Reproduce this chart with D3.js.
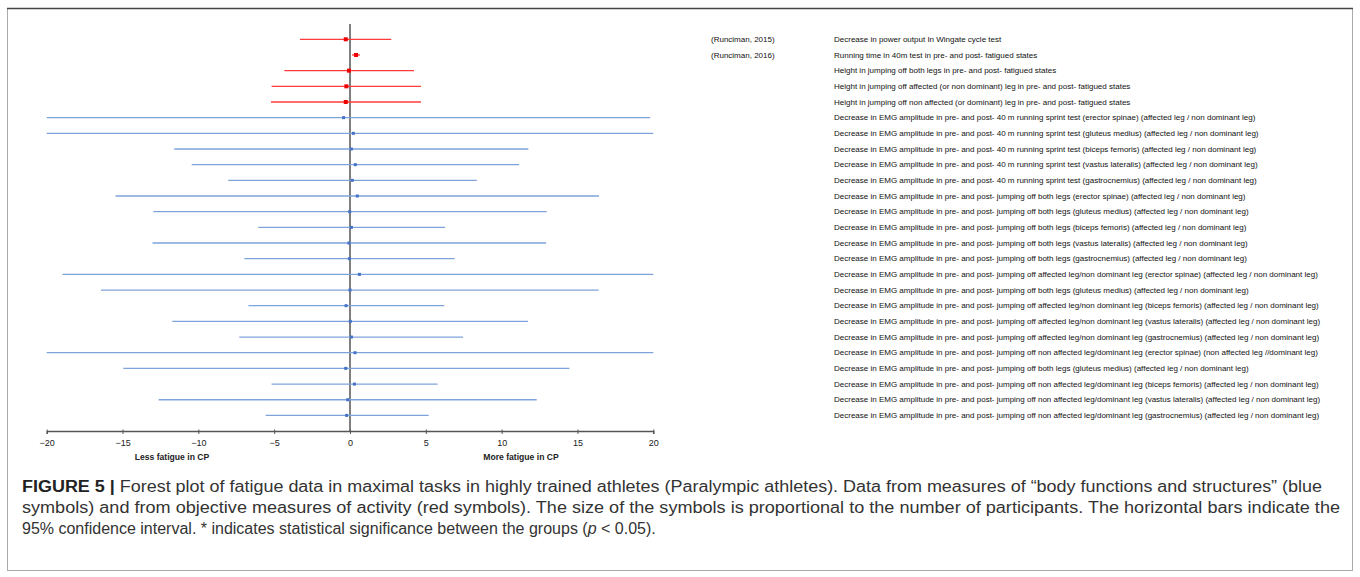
<!DOCTYPE html>
<html>
<head>
<meta charset="utf-8">
<script src="https://cdn.jsdelivr.net/npm/d3@7"></script>
<style>
	body { margin: 0; background: #fff; }
	svg { display: block; }
</style>
</head>
<body>
<div id="chart"></div>
<script>
// rows of the forest plot, top to bottom
const citations = ["(Runciman, 2015)", "(Runciman, 2016)"];

const outcomes = [
	"Decrease in power output In Wingate cycle test",
	"Running time in 40m test in pre- and post- fatigued states",
	"Height in jumping off both legs in pre- and post- fatigued states",
	"Height in jumping off affected (or non dominant) leg in pre- and post- fatigued states",
	"Height in jumping off non affected (or dominant) leg in pre- and post- fatigued states",
	"Decrease in EMG amplitude in pre- and post- 40 m running sprint test (erector spinae) (affected leg / non dominant leg)",
	"Decrease in EMG amplitude in pre- and post- 40 m running sprint test (gluteus medius) (affected leg / non dominant leg)",
	"Decrease in EMG amplitude in pre- and post- 40 m running sprint test (biceps femoris) (affected leg / non dominant leg)",
	"Decrease in EMG amplitude in pre- and post- 40 m running sprint test (vastus lateralis) (affected leg / non dominant leg)",
	"Decrease in EMG amplitude in pre- and post- 40 m running sprint test (gastrocnemius) (affected leg / non dominant leg)",
	"Decrease in EMG amplitude in pre- and post- jumping off both legs (erector spinae) (affected leg / non dominant leg)",
	"Decrease in EMG amplitude in pre- and post- jumping off both legs (gluteus medius) (affected leg / non dominant leg)",
	"Decrease in EMG amplitude in pre- and post- jumping off both legs (biceps femoris) (affected leg / non dominant leg)",
	"Decrease in EMG amplitude in pre- and post- jumping off both legs (vastus lateralis) (affected leg / non dominant leg)",
	"Decrease in EMG amplitude in pre- and post- jumping off both legs (gastrocnemius) (affected leg / non dominant leg)",
	"Decrease in EMG amplitude in pre- and post- jumping off affected leg/non dominant leg (erector spinae) (affected leg / non dominant leg)",
	"Decrease in EMG amplitude in pre- and post- jumping off both legs (gluteus medius) (affected leg / non dominant leg)",
	"Decrease in EMG amplitude in pre- and post- jumping off affected leg/non dominant leg (biceps femoris) (affected leg / non dominant leg)",
	"Decrease in EMG amplitude in pre- and post- jumping off affected leg/non dominant leg (vastus lateralis) (affected leg / non dominant leg)",
	"Decrease in EMG amplitude in pre- and post- jumping off affected leg/non dominant leg (gastrocnemius) (affected leg / non dominant leg)",
	"Decrease in EMG amplitude in pre- and post- jumping off non affected leg/dominant leg (erector spinae) (non affected leg //dominant leg)",
	"Decrease in EMG amplitude in pre- and post- jumping off both legs (gluteus medius) (affected leg / non dominant leg)",
	"Decrease in EMG amplitude in pre- and post- jumping off non affected leg/dominant leg (biceps femoris) (affected leg / non dominant leg)",
	"Decrease in EMG amplitude in pre- and post- jumping off non affected leg/dominant leg (vastus lateralis) (affected leg / non dominant leg)",
	"Decrease in EMG amplitude in pre- and post- jumping off non affected leg/dominant leg (gastrocnemius) (affected leg / non dominant leg)",
];

// "red" = objective activity measures, "blue" = body functions and structures
const groups = ["red", "red", "red", "red", "red",
	"blue", "blue", "blue", "blue", "blue", "blue", "blue", "blue", "blue", "blue",
	"blue", "blue", "blue", "blue", "blue", "blue", "blue", "blue", "blue", "blue"];

const estimates = [-0.28, 0.4, -0.07, -0.24, -0.28,
	-0.42, 0.22, 0.09, 0.35, 0.15, 0.48, -0.02, 0.09, -0.07, -0.04,
	0.62, 0.0, -0.26, 0.02, 0.09, 0.33, -0.28, 0.29, -0.15, -0.22];

const lower = [-3.3, 0.13, -4.33, -5.17, -5.21,
	-20, -20, -11.59, -10.44, -8.03, -15.46, -12.97, -6.05, -13.02, -6.97,
	-18.96, -16.42, -6.7, -11.72, -7.3, -20, -14.95, -5.17, -12.62, -5.56];

const upper = [2.72, 0.66, 4.22, 4.68, 4.68,
	19.8, 20, 11.76, 11.15, 8.36, 16.42, 12.97, 6.27, 12.93, 6.9,
	20, 16.4, 6.22, 11.74, 7.45, 20, 14.47, 5.78, 12.31, 5.19];

const xTicks = [-20, -15, -10, -5, 0, 5, 10, 15, 20];

const captionLines = [
	"Forest plot of fatigue data in maximal tasks in highly trained athletes (Paralympic athletes). Data from measures of \u201cbody functions and structures\u201d (blue",
	"symbols) and from objective measures of activity (red symbols). The size of the symbols is proportional to the number of participants. The horizontal bars indicate the",
	"95% confidence interval. * indicates statistical significance between the groups ("
];

const colors = {
	red: { line: "#ff3b3b", point: "#ee0000", size: 4 },
	blue: { line: "#7ea3db", point: "#4472c4", size: 3 }
};

const W = 1360, H = 577;
const font = "'Liberation Sans', Arial, sans-serif";

const svg = d3.select("#chart")
	.append("svg")
	.attr("width", W)
	.attr("height", H);

// frame round the whole figure, darker rule on top
svg.append("rect")
	.attr("x", 7.5).attr("y", 8.5)
	.attr("width", 1345).attr("height", 562)
	.attr("fill", "none")
	.attr("stroke", "#aaa")
	.attr("stroke-width", 1);

svg.append("line")
	.attr("x1", 7).attr("x2", 1353)
	.attr("y1", 8.5).attr("y2", 8.5)
	.attr("stroke", "#444")
	.attr("stroke-width", 1.5);

const x = d3.scaleLinear()
	.domain([-20, 20])
	.range([46.7, 653.3]);

const y = d3.scalePoint()
	.domain(d3.range(outcomes.length))
	.range([39.3, 415.4]);

const axisY = 431;

// zero line
svg.append("line")
	.attr("x1", x(0)).attr("x2", x(0))
	.attr("y1", 24).attr("y2", axisY)
	.attr("stroke", "#555")
	.attr("stroke-width", 1.5);

// x axis
const xAxis = svg.append("g")
	.attr("transform", `translate(0,${axisY})`)
	.call(d3.axisBottom(x).tickValues(xTicks).tickSizeOuter(0).tickSize(3).tickPadding(6));

xAxis.select(".domain").attr("stroke", "#555").attr("stroke-width", 1.3);
xAxis.selectAll(".tick line").attr("stroke", "#555").attr("y1", -1.5).attr("y2", 3);
xAxis.selectAll(".tick text")
	.style("font-family", font)
	.style("font-size", "9px")
	.attr("fill", "#222");

// axis captions
svg.append("text")
	.attr("x", 172).attr("y", 460)
	.attr("text-anchor", "middle")
	.style("font-family", font)
	.style("font-size", "8.6px")
	.style("font-weight", "bold")
	.attr("fill", "#222")
	.text("Less fatigue in CP");

svg.append("text")
	.attr("x", 521).attr("y", 460)
	.attr("text-anchor", "middle")
	.style("font-family", font)
	.style("font-size", "8.6px")
	.style("font-weight", "bold")
	.attr("fill", "#222")
	.text("More  fatigue in CP");

// confidence intervals
const rows = outcomes.map((d, i) => ({
	i: i, label: d, group: groups[i], est: estimates[i], lo: lower[i], hi: upper[i]
}));

svg.append("g")
	.selectAll("line")
	.data(rows)
	.join("line")
	.attr("x1", d => x(d.lo))
	.attr("x2", d => x(d.hi))
	.attr("y1", d => y(d.i))
	.attr("y2", d => y(d.i))
	.attr("stroke", d => colors[d.group].line)
	.attr("stroke-width", 1.3);

// point estimates
svg.append("g")
	.selectAll("rect")
	.data(rows)
	.join("rect")
	.attr("x", d => x(d.est) - colors[d.group].size / 2)
	.attr("y", d => y(d.i) - colors[d.group].size / 2)
	.attr("width", d => colors[d.group].size)
	.attr("height", d => colors[d.group].size)
	.attr("fill", d => colors[d.group].point);

// right-hand labels
svg.append("g")
	.selectAll("text")
	.data(citations)
	.join("text")
	.attr("x", 711)
	.attr("y", (d, i) => y(i) + 2.7)
	.style("font-family", font)
	.style("font-size", "8px")
	.attr("fill", "#111")
	.text(d => d);

svg.append("g")
	.selectAll("text")
	.data(rows)
	.join("text")
	.attr("x", 834)
	.attr("y", d => y(d.i) + 2.7)
	.style("font-family", font)
	.style("font-size", "8px")
	.attr("fill", "#111")
	.text(d => d.label);

// figure caption
const cap = svg.append("g")
	.style("font-family", font)
	.style("font-size", "16px")
	.attr("fill", "#333");

const line1 = cap.append("text").attr("x", 22).attr("y", 492);
line1.append("tspan").style("font-weight", "bold").attr("fill", "#222").text("FIGURE 5 | ");
line1.append("tspan").text(captionLines[0]);

const line2 = cap.append("text").attr("x", 22).attr("y", 513).text(captionLines[1]);

const line3 = cap.append("text").attr("x", 22).attr("y", 534);
line3.append("tspan").text(captionLines[2]);
line3.append("tspan").style("font-style", "italic").text("p");
line3.append("tspan").text(" < 0.05).");

// fit the two long caption lines to the widths of the original condensed face
line1.attr("textLength", 1300).attr("lengthAdjust", "spacingAndGlyphs");
line2.attr("textLength", 1318).attr("lengthAdjust", "spacingAndGlyphs");
</script>
</body>
</html>
